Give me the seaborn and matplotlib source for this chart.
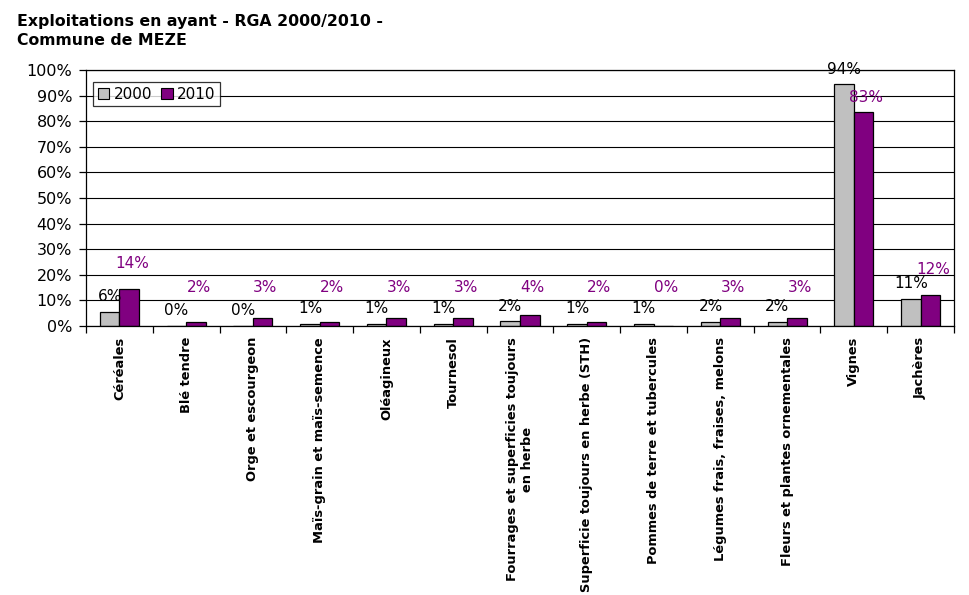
import matplotlib
matplotlib.use("Agg")
import matplotlib.pyplot as plt
import seaborn as sns
import pandas as pd
import numpy as np
from matplotlib.ticker import MultipleLocator, FuncFormatter

categories = [
    "Céréales",
    "Blé tendre",
    "Orge et escourgeon",
    "Maïs-grain et maïs-semence",
    "Oléagineux",
    "Tournesol",
    "Fourrages et superficies toujours\nen herbe",
    "Superficie toujours en herbe (STH)",
    "Pommes de terre et tubercules",
    "Légumes frais, fraises, melons",
    "Fleurs et plantes ornementales",
    "Vignes",
    "Jachères",
]
share_2000 = [5.6, 0.0, 0.0, 0.8, 0.8, 0.8, 1.8, 0.8, 0.8, 1.6, 1.6, 94.4, 10.7]
share_2010 = [14.3, 1.6, 3.1, 1.6, 3.1, 3.1, 4.3, 1.6, 0.0, 3.1, 3.1, 83.4, 12.1]
years = ["2000", "2010"]
colors = {"2000": "#C0C0C0", "2010": "#800080"}
title = "Exploitations en ayant - RGA 2000/2010 -\nCommune de MEZE"

df = pd.DataFrame({
    "culture": categories * 2,
    "part": share_2000 + share_2010,
    "annee": [years[0]] * len(categories) + [years[1]] * len(categories),
})

sns.set_theme(style="white")
plt.rcParams["font.family"] = ["DejaVu Sans"]
plt.rcParams["text.color"] = "black"
plt.rcParams["xtick.color"] = "black"
plt.rcParams["ytick.color"] = "black"
plt.rcParams["axes.labelcolor"] = "black"

fig = plt.figure(figsize=(9.69, 5.95), dpi=100)
ax = fig.add_axes([0.0888, 0.4521, 0.8957, 0.4303])

sns.barplot(
    data=df, x="culture", y="part", hue="annee", hue_order=years,
    palette=colors, width=0.585, saturation=1, edgecolor="black",
    linewidth=0.9, ax=ax, legend=True, errorbar=None,
)

ax.set_xlim(-0.5, len(categories) - 0.5)
ax.set_ylim(0, 100)
ax.yaxis.set_major_locator(MultipleLocator(10))
ax.yaxis.set_major_formatter(FuncFormatter(lambda v, p: f"{v:.0f}%"))
ax.yaxis.grid(True, color="black", linewidth=0.8)
ax.set_axisbelow(True)
ax.set_xlabel("")
ax.set_ylabel("")

for side in ["left", "right", "top", "bottom"]:
    ax.spines[side].set_visible(True)
    ax.spines[side].set_color("black")
    ax.spines[side].set_linewidth(0.9)

ax.tick_params(axis="y", which="major", length=5, width=0.9, color="black",
               direction="out", left=True, labelsize=11.5, pad=5, labelcolor="black")
ax.set_xticks(np.arange(-0.5, len(categories), 1), minor=True)
ax.tick_params(axis="x", which="minor", length=5, width=0.9, color="black",
               direction="out", bottom=True)
ax.tick_params(axis="x", which="major", length=0, pad=8, labelcolor="black")
ax.set_xticks(range(len(categories)))
ax.set_xticklabels(categories, rotation=90, ha="center", va="top",
                   fontsize=9.4, fontweight="bold", multialignment="center")

# value labels above each bar
for container, year in zip(ax.containers, years):
    for bar in container:
        h = bar.get_height()
        xc = bar.get_x() + bar.get_width() / 2
        if year == "2000":
            ax.text(xc, h + 5.9, f"{h:.0f}%", ha="center", va="center",
                    fontsize=11, color="black")
        else:
            ypos = min(max(h + 10.0, 15.0), 89.3)
            ax.text(xc + 0.04, ypos, f"{h:.0f}%", ha="center", va="center",
                    fontsize=11, color="#800080")

leg = ax.legend(
    loc="upper left", bbox_to_anchor=(0.008, 0.953), ncol=2, frameon=True,
    fancybox=False, edgecolor="black", fontsize=11, handlelength=0.75,
    handleheight=0.75, handletextpad=0.3, columnspacing=0.6, borderpad=0.3,
    borderaxespad=0.0,
)
leg.get_frame().set_linewidth(0.9)
for t in leg.get_texts():
    t.set_color("black")
for h in leg.legend_handles:
    h.set_edgecolor("black")
    h.set_linewidth(0.8)

fig.text(0.018, 1 - 14 / 595, title, ha="left", va="top", fontsize=11.3,
         fontweight="bold", linespacing=1.3, color="black")

fig.savefig("out.png", dpi=100, facecolor="white")
